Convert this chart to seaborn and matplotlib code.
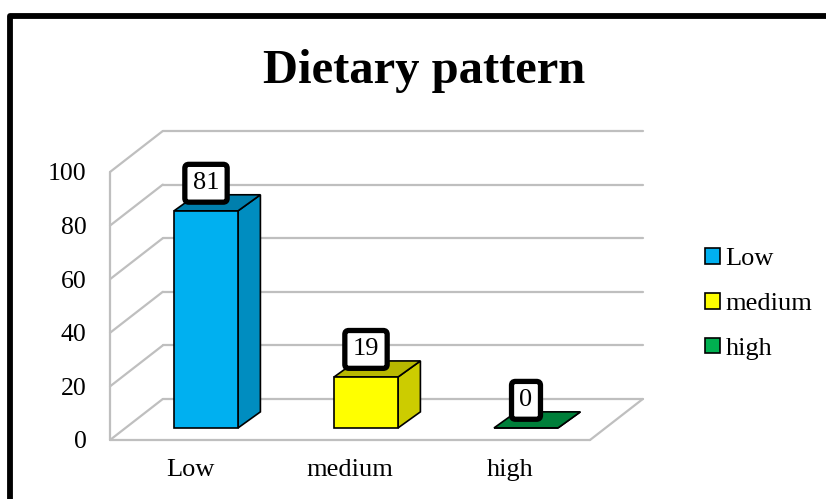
import matplotlib
matplotlib.use('Agg')
import pandas as pd
import matplotlib.pyplot as plt
import seaborn as sns
from matplotlib.patches import Polygon, Patch
from matplotlib.lines import Line2D
from matplotlib.colors import to_rgb

# --- data ---
categories = ['Low', 'medium', 'high']
values = [81, 19, 0]
colors = ['#00B0F0', '#FFFF00', '#00B050']
yticks = [0, 20, 40, 60, 80, 100]

sns.set_style('white')
plt.rcParams['font.family'] = ['Liberation Serif', 'DejaVu Serif']
plt.rcParams['text.color'] = 'black'
plt.rcParams['xtick.color'] = 'black'
plt.rcParams['ytick.color'] = 'black'

df = pd.DataFrame({'level': categories, 'pct': values})

W, H = 826, 499
fig = plt.figure(figsize=(W / 100, H / 100), dpi=100)
# axes = front plane of the fake 3D box
ax = fig.add_axes([110 / W, (H - 440) / H, 480 / W, 268 / H])

# fake 3D offsets, data units (x: category, y: percent)
WALL_DX, WALL_DY = 0.33, 15.3   # front plane -> back wall
BAR_DX, BAR_DY = 0.10, 4.5      # front plane -> front face of bars
DEP_DX, DEP_DY = 0.14, 6.0      # bar thickness


def shade(c, k):
    r, g, b = to_rgb(c)
    return (r * k, g * k, b * k)


sns.barplot(data=df, x='level', y='pct', hue='level', palette=colors,
            saturation=1, width=0.4, edgecolor='black', linewidth=1.2,
            legend=False, ax=ax, zorder=4)
ax.set_xlim(-0.5, 2.5)
ax.set_ylim(0, 100)

# walls / gridlines
x0, x1 = -0.5, 2.5
gkw = dict(color='#BFBFBF', lw=1.6, clip_on=False, zorder=1)
for v in yticks:
    ax.plot([x0, x0 + WALL_DX], [v, v + WALL_DY], **gkw)
    ax.plot([x0 + WALL_DX, x1 + WALL_DX], [v + WALL_DY, v + WALL_DY], **gkw)
ax.plot([x0, x1], [0, 0], **gkw)
ax.plot([x1, x1 + WALL_DX], [0, WALL_DY], **gkw)
ax.plot([x0, x0], [0, 100], **gkw)

# push bars back and add side + top faces
bars = sorted(ax.patches, key=lambda p: p.get_x())
for bar, c, v in zip(bars, colors, values):
    bar.set_x(bar.get_x() + BAR_DX)
    bar.set_y(bar.get_y() + BAR_DY)
    bar.set_clip_on(False)
    xl, yb = bar.get_x(), bar.get_y()
    xr, yt = xl + bar.get_width(), yb + bar.get_height()
    side = [(xr, yb), (xr + DEP_DX, yb + DEP_DY), (xr + DEP_DX, yt + DEP_DY), (xr, yt)]
    top = [(xl, yt), (xr, yt), (xr + DEP_DX, yt + DEP_DY), (xl + DEP_DX, yt + DEP_DY)]
    ax.add_patch(Polygon(side, fc=shade(c, 0.8), ec='black', lw=1.2, zorder=3, clip_on=False))
    ax.add_patch(Polygon(top, fc=shade(c, 0.72), ec='black', lw=1.2, zorder=3, clip_on=False))
    ax.text(xl + bar.get_width() / 2, yt + 10.3, f'{v}', fontsize=19,
            ha='center', va='center', zorder=6, clip_on=False,
            bbox=dict(boxstyle='round,pad=0.3,rounding_size=0.15',
                      fc='white', ec='black', lw=3.8))

ax.set_yticks(yticks)
ax.set_xlabel('')
ax.set_ylabel('')
ax.tick_params(axis='y', length=0, pad=17, labelsize=18.5)
ax.tick_params(axis='x', length=0, pad=14, labelsize=19)
sns.despine(ax=ax, left=True, bottom=True)
ax.patch.set_alpha(0)

# legend
handles = [Patch(fc=c, ec='black', lw=1.2) for c in colors]
fig.legend(handles, categories, loc='center left',
           bbox_to_anchor=(705 / W, 1 - 304 / H), frameon=False,
           fontsize=19, handlelength=0.55, handleheight=0.55,
           handletextpad=0.22, labelspacing=0.85, borderpad=0,
           borderaxespad=0)

# title
fig.text(424 / W, 1 - 83 / H, 'Dietary pattern', fontsize=35,
         fontweight='bold', ha='center', va='baseline')

# outer frame (cut off at right and bottom)
fig.add_artist(Line2D([10.3 / W, 10.3 / W, 1.0], [0, 1 - 15.5 / H, 1 - 15.5 / H],
                      transform=fig.transFigure, color='black', lw=4.2,
                      solid_joinstyle='round'))

fig.savefig('out.png', dpi=100)
